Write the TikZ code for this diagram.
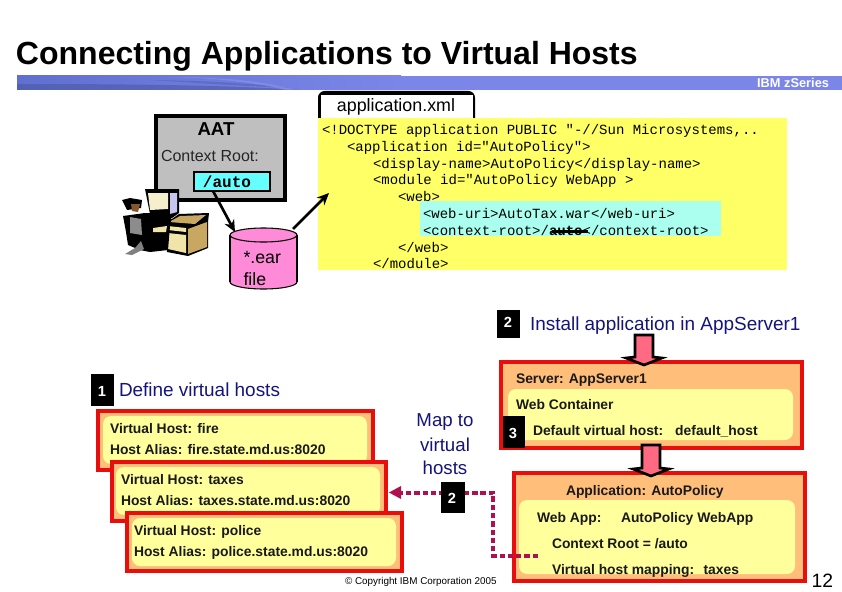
\documentclass[tikz,border=0pt]{standalone}
\usepackage{fontspec}
\setmainfont{Liberation Sans}
\setmonofont{Liberation Mono}
\usetikzlibrary{arrows.meta}
\definecolor{navy}{HTML}{14147A}
\definecolor{redb}{HTML}{E80E0E}
\definecolor{orangef}{HTML}{FFBE7A}
\definecolor{yellowi}{HTML}{FFFF9C}
\definecolor{yellowc}{HTML}{FFFF66}
\definecolor{cyanc}{HTML}{AAFFEE}
\definecolor{cyanb}{HTML}{66FFFF}
\definecolor{pinka}{HTML}{FF6A82}
\definecolor{crim}{HTML}{B0104F}
\definecolor{tan1}{HTML}{C8A860}
\definecolor{cream}{HTML}{F0E4A8}
\definecolor{pinkc}{HTML}{FF8AD8}
\definecolor{bandl}{HTML}{6070D0}
\definecolor{bandr}{HTML}{7B86E8}
\definecolor{bandd}{HTML}{4A569E}
\definecolor{bandp}{HTML}{8C96E8}
\definecolor{lav}{HTML}{C8C4F0}
\newcommand{\pxbox}[6]{\node[#6,anchor=north west,inner sep=0pt,outer sep=0pt,minimum width={(#4-#2)*0.75pt},minimum height={(#5-#3)*0.75pt}] (#1) at (#2,#3) {};}
\tikzset{
 x=0.75pt,y=-0.75pt,
 every node/.style={inner sep=0pt,outer sep=0pt},
 redbox/.style={draw=redb,line width=2.9pt,fill=orangef},
 innerbox/.style={fill=yellowi,rounded corners=6pt},
 badge/.style={fill=black},
 badgetxt/.style={text=white,font=\fontsize{11}{13}\bfseries\selectfont,anchor=center},
 lbl/.style={anchor=base west,yshift=-0.75pt,font=\fontsize{10.4}{12}\bfseries\selectfont,text=black!90},
 code/.style={anchor=base west,font=\fontsize{10.5}{12}\ttfamily\selectfont,text=black},
 blue lbl/.style={anchor=base west,font=\fontsize{14.2}{16}\selectfont,text=navy},
 blockarrow/.style={draw=black,line width=2pt,fill=pinka,line join=miter},
 conn/.style={-{Stealth[length=9pt,width=8pt]},line width=2pt,black},
 dotconn/.style={crim,line width=3pt,dash pattern=on 4pt off 2.2pt},
}
\begin{document}
\begin{tikzpicture}
\useasboundingbox (0,0) rectangle (842,592);
\fill[white] (0,0) rectangle (842,592);
% title and banner
\node[anchor=base west,font=\fontsize{24}{28}\bfseries\selectfont] (title) at (16,64.5) {Connecting Applications to Virtual Hosts};
\fill[bandr] (17,76) rectangle (842,90);
\fill[left color=bandl,right color=bandr] (17,76) rectangle (401,90);
\fill[bandd,opacity=.55] (17,84) .. controls (120,84) and (230,85) .. (300,90) -- (17,90) -- cycle;
\fill[bandd,opacity=.4] (150,80) .. controls (210,81) and (250,83) .. (290,88) .. controls (240,86) and (200,83) .. (150,80) -- cycle;
\fill[bandp,opacity=.6] (170,77) .. controls (220,78) and (265,84) .. (285,90) -- (295,90) .. controls (270,82) and (225,77) .. (170,77) -- cycle;
\node[anchor=base east,text=white,font=\fontsize{9.6}{11}\bfseries\selectfont] (ibm) at (829,88) {IBM zSeries};
% AAT
\pxbox{aat}{156}{116}{285}{200}{draw=black,line width=2.4pt,fill=black!25}
\node[font=\fontsize{14}{16}\bfseries\selectfont] (aatl) at (216,129) {AAT};
\node[anchor=base west,font=\fontsize{12}{14}\selectfont,text=black!85] (cr) at (161,161) {Context Root:};
\pxbox{autob}{194}{172}{270}{191}{draw=black,line width=1.5pt,fill=cyanb}
\node[font=\fontsize{12}{14}\ttfamily\bfseries\selectfont] (autol) at (227,182) {/auto};
% clipart
\fill[black] (145,189) -- (179,189) -- (179,213) -- (172,218) -- (150,214) -- cycle;
\fill[cream!60!white] (148,193) -- (168,193) -- (168,209) -- (150,210) -- cycle;
\fill[lav] (170,193) -- (177,193) -- (177,212) -- (170,214) -- cycle;
\fill[black] (166,223) -- (179,214) -- (209,213) -- (208,222) -- (208,248) -- (188,256) -- (167,252) -- cycle;
\fill[tan1] (169,222) -- (180,216) -- (206,215) -- (195,224) -- cycle;
\fill[tan1] (188,229) -- (207,222) -- (207,247) -- (188,254) -- cycle;
\fill[cream] (168,233) -- (186,235) -- (186,253) -- (168,249) -- cycle;
\fill[cream] (168,226) -- (186,228) -- (186,232) -- (168,230) -- cycle;
\fill[black] (123,216) -- (145,213) -- (172,214) -- (170,226) -- (168,250) -- (150,252) -- (140,250) -- (128,245) -- (126,232) -- cycle;
\fill[cream] (153,228) -- (167,226) -- (166,232) -- (153,232) -- cycle;
\fill[black!45] (130,217) -- (141,219) -- (142,235) -- (130,233) -- cycle;
\fill[black] (122,200) -- (130,198) -- (142,200) -- (141,208) -- (127,210) -- cycle;
\fill[brown!70!black] (131,204) -- (140,204) -- (138,212) -- (132,211) -- cycle;
\fill[black!50] (125,254) -- (135,248) -- (141,241) -- (144,249) -- (132,255) -- cycle;
% cylinder
\fill[pinkc] (230,235) rectangle (297,282);
\fill[pinkc,draw=black,line width=0.8pt] (263.5,282) ellipse (33.5 and 7);
\fill[pinkc] (230.5,235) rectangle (296.5,282);
\draw[black,line width=0.8pt] (230,235) -- (230,282);
\draw[black,line width=0.8pt] (297,235) -- (297,282);
\fill[pinkc,draw=black,line width=0.8pt] (263.5,235) ellipse (33.5 and 7);
\node[anchor=base west,font=\fontsize{13.3}{16}\selectfont] (ear1) at (243.5,263) {*.ear};
\node[anchor=base west,font=\fontsize{13.3}{16}\selectfont] (ear2) at (243.5,285) {file};
% xml
\fill[black] (318,120) -- (318,100) [rounded corners=5pt] -- (318,91) -- (475,91) [sharp corners] -- (475,120) -- cycle;
\node[fill=white,anchor=north west,minimum width={152*0.75pt},minimum height={25*0.75pt}] (tabi) at (321,95) {};
\node[font=\fontsize{13.4}{15}\selectfont] (tabl) at (396,107) {application.xml};
\pxbox{yel}{318}{118}{787}{270}{fill=yellowc}
\pxbox{cy}{420}{201}{721}{236}{fill=cyanc}
\node[code] (l1) at (322,134) {<!DOCTYPE application PUBLIC "-//Sun Microsystems,..};
\node[code] (l2) at (347,151) {<application id="AutoPolicy">};
\node[code] (l3) at (373,168) {<display-name>AutoPolicy</display-name>};
\node[code] (l4) at (373,184) {<module id="AutoPolicy WebApp >};
\node[code] (l5) at (398,201) {<web>};
\node[code] (l6) at (423,218) {<web-uri>AutoTax.war</web-uri>};
\node[code] (l7) at (423,235) {<context-root>/{\bfseries auto}</context-root>};
\fill[black] (552,229.5) rectangle (588,233);
\node[code] (l8) at (398,252) {</web>};
\node[code] (l9) at (373,268) {</module>};
% black arrows
\coordinate (a1) at (213,191);
\coordinate (a2) at (235,232);
\coordinate (b1) at (293,229);
\coordinate (b2) at (329,193);
\draw[conn] (a1) -- (a2);
\draw[conn] (b1) -- (b2);
% step 2
\pxbox{b2a}{497}{310}{520}{338}{badge}
\node[badgetxt] (b2at) at (508,322) {2};
\node[blue lbl] (inst) at (530,330) {Install application in AppServer1};
% server box
\pxbox{srv}{501}{362}{802}{448}{redbox}
\pxbox{srvi}{508}{389}{793}{440}{innerbox}
\node[lbl] (s1) at (516,382) {Server: AppServer1};
\node[lbl] (s2) at (516,408) {Web Container};
\pxbox{b3}{503}{416}{525}{448}{badge}
\node[badgetxt] (b3t) at (513,433) {3};
\node[lbl] (s3) at (533,434) {Default virtual host:\hspace{9pt}default\_host};
% app box
\pxbox{app}{514}{473}{805}{581}{redbox}
\pxbox{appi}{519}{500}{795}{574}{innerbox}
\node[lbl] (p1) at (566,494) {Application: AutoPolicy};
\node[lbl] (p2) at (537,521) {Web App:};
\node[lbl] (p3) at (621,521) {AutoPolicy WebApp};
\node[lbl] (p4) at (552,547) {Context Root = /auto};
\node[lbl] (p5) at (552,573) {Virtual host mapping:\hspace{7pt}taxes};
% block arrows
\draw[blockarrow] (635,335) -- (653,335) -- (653,357) -- (662,358) -- (644,365) -- (626,358) -- (635,357) -- cycle;
\draw[blockarrow] (642,445) -- (660,445) -- (660,468) -- (669,469) -- (651,476) -- (633,469) -- (642,468) -- cycle;
% step 1
\pxbox{b1x}{91}{374}{114}{406}{badge}
\node[badgetxt] (b1t) at (102,391) {1};
\node[blue lbl] (def) at (119,396) {Define virtual hosts};
% hosts
\pxbox{h1}{98}{411}{373}{470}{redbox}
\pxbox{h1i}{103}{416}{367}{464}{innerbox}
\node[lbl] (h1a) at (110,432) {Virtual Host: fire};
\node[lbl] (h1b) at (110,453) {Host Alias: fire.state.md.us:8020};
\pxbox{h2}{112}{462}{386}{521}{redbox}
\pxbox{h2i}{116}{467}{380}{515}{innerbox}
\node[lbl] (h2a) at (121,483) {Virtual Host: taxes};
\node[lbl] (h2b) at (121,504) {Host Alias: taxes.state.md.us:8020};
\pxbox{h3}{127}{513}{402}{571}{redbox}
\pxbox{h3i}{132}{518}{396}{566}{innerbox}
\node[lbl] (h3a) at (134,534) {Virtual Host: police};
\node[lbl] (h3b) at (134,555) {Host Alias: police.state.md.us:8020};
% map
\node[anchor=center,font=\fontsize{14}{16}\selectfont,text=navy] (m1) at (445,422) {Map to};
\node[anchor=center,font=\fontsize{14}{16}\selectfont,text=navy] (m2) at (445,445) {virtual};
\node[anchor=center,font=\fontsize{14}{16}\selectfont,text=navy] (m3) at (445,468) {hosts};
% dotted connector
\coordinate (d0) at (389,492.5);
\coordinate (d1) at (493,492.5);
\coordinate (d2) at (493,556);
\coordinate (d3) at (538,556);
\draw[dotconn] (d3) -- (d2) -- (d1) -- (401,492.5);
\fill[crim] (d0) -- (401,486) -- (401,499) -- cycle;
\pxbox{b2b}{441}{482}{465}{513}{badge}
\node[badgetxt] (b2bt) at (452,498) {2};
% footer
\node[anchor=base west,font=\fontsize{7.4}{9}\selectfont] (copy) at (345,584) {© Copyright IBM Corporation 2005};
\node[anchor=base east,font=\fontsize{14.5}{16}\selectfont] (pg) at (833,587) {12};
\end{tikzpicture}
\end{document}
